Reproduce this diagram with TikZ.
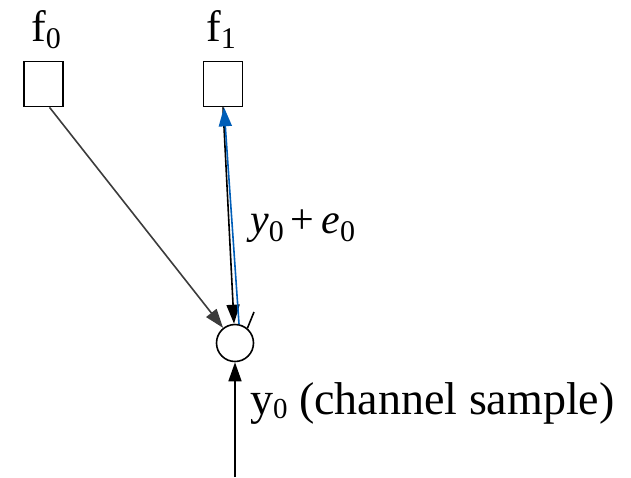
\documentclass[tikz,border=0pt]{standalone}
\usepackage{fontspec}
\setmainfont{Liberation Serif}
\usetikzlibrary{arrows.meta,calc}
\definecolor{arrowblue}{RGB}{0,94,184}
\definecolor{linegray}{RGB}{60,60,60}
\begin{document}
\begin{tikzpicture}[x=1pt,y=-1pt,
  box/.style={draw,line width=1.6pt,minimum width=39pt,minimum height=45pt,inner sep=0pt},
  sum/.style={draw,circle,line width=1.6pt,minimum size=37pt,inner sep=0pt},
  arr/.style={line width=1.6pt,-{Triangle[length=19pt,width=13pt]}},
  lbl/.style={inner sep=0pt,anchor=base west}]
\useasboundingbox (0,0) rectangle (631,477);
\node[box] (b0) at (43.5,84) {};
\node[box] (b1) at (223,84) {};
\node[lbl,font=\fontsize{44}{46}\selectfont] (l0) at (31,41) {f\raisebox{-7pt}{\fontsize{30}{30}\selectfont 0}};
\node[lbl,font=\fontsize{44}{46}\selectfont] (l1) at (206,41) {f\raisebox{-7pt}{\fontsize{30}{30}\selectfont 1}};
\node[sum] (s) at (235,343) {};
\draw[arr,linegray] ($(b0.south)+(6,0)$) -- (s);
\draw[arr] (b1.south) -- (s);
\draw[arr,arrowblue] (s.78) -- ($(b1.south)+(1,0)$);
\coordinate (stub) at (254,312);
\draw[line width=1.6pt] (s.50) -- (stub);
\coordinate (in) at (235,477);
\draw[arr] (in) -- (s.south);
\node[lbl,font=\fontsize{42}{44}\selectfont] (le) at (250,233) {\textit{y}\raisebox{-8pt}{\fontsize{30}{30}\selectfont 0}\,+\,\textit{e}\raisebox{-8pt}{\fontsize{30}{30}\selectfont 0}};
\node[lbl,font=\fontsize{46}{48}\selectfont] (ly) at (250,414) {y\raisebox{-4pt}{\fontsize{29}{29}\selectfont 0} (channel sample)};
\end{tikzpicture}
\end{document}
